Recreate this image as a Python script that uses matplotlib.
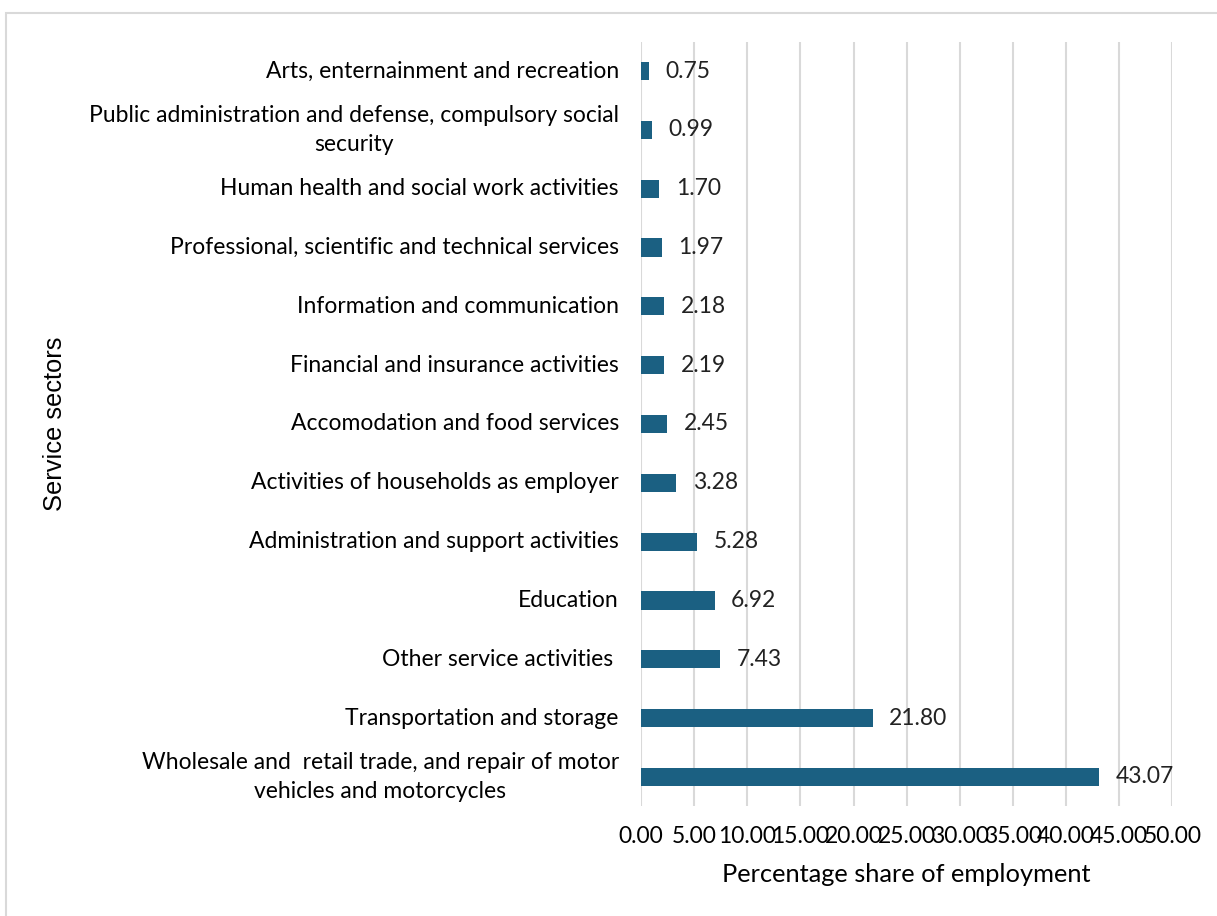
import matplotlib
matplotlib.use("Agg")
import matplotlib.pyplot as plt
from matplotlib.patches import Rectangle

# employment share by service sector (bottom to top as drawn)
sectors = [
    "Wholesale and  retail trade, and repair of motor\nvehicles and motorcycles",
    "Transportation and storage",
    "Other service activities ",
    "Education",
    "Administration and support activities",
    "Activities of households as employer",
    "Accomodation and food services",
    "Financial and insurance activities",
    "Information and communication",
    "Professional, scientific and technical services",
    "Human health and social work activities",
    "Public administration and defense, compulsory social\nsecurity",
    "Arts, enternainment and recreation",
]
shares = [43.07, 21.80, 7.43, 6.92, 5.28, 3.28, 2.45, 2.19, 2.18, 1.97, 1.70, 0.99, 0.75]
x_ticks = [0, 5, 10, 15, 20, 25, 30, 35, 40, 45, 50]

BAR_COLOR = "#1b6082"
GRID_COLOR = "#d9d9d9"
FONT = "Lato"

fig = plt.figure(figsize=(12.17, 9.16), dpi=100)
ax = fig.add_axes([0.5267, 0.1197, 0.4366, 0.8349])

pos = list(range(len(sectors)))
ax.barh(pos, shares, height=0.31, color=BAR_COLOR, zorder=3)
for y, v in zip(pos, shares):
    ax.annotate(f"{v:.2f}", (v, y), xytext=(12, 0), textcoords="offset points",
                va="center", ha="left", fontsize=16.5, family=FONT, color="#222222")

ax.set_xlim(0, 50)
ax.set_ylim(-0.5, len(sectors) - 0.5)
ax.set_xticks(x_ticks)
ax.set_xticklabels([f"{t:.2f}" for t in x_ticks], family=FONT, fontsize=16.5)
ax.set_yticks(pos)
ax.set_yticklabels(sectors, family=FONT, fontsize=16.5, multialignment="center",
                   linespacing=1.45, va="center")
ax.tick_params(axis="y", length=0, pad=16)
ax.tick_params(axis="x", length=0, pad=14)

ax.grid(axis="x", color=GRID_COLOR, linewidth=1.5, zorder=0)
for s in ax.spines.values():
    s.set_visible(False)

ax.set_xlabel("Percentage share of employment", family=FONT, fontsize=18.3, labelpad=12)
fig.text(0.045, 0.537, "Service sectors", rotation=90, va="center", ha="center",
         family="Liberation Sans", fontsize=18.4)

# light frame round the chart area
fig.patches.append(Rectangle((6 / 1217, -0.1), 1.2, (1 - 13 / 916) + 0.1,
                             transform=fig.transFigure, fill=False,
                             edgecolor="#d9d9d9", linewidth=1.5))

fig.savefig("out.png", dpi=100)
